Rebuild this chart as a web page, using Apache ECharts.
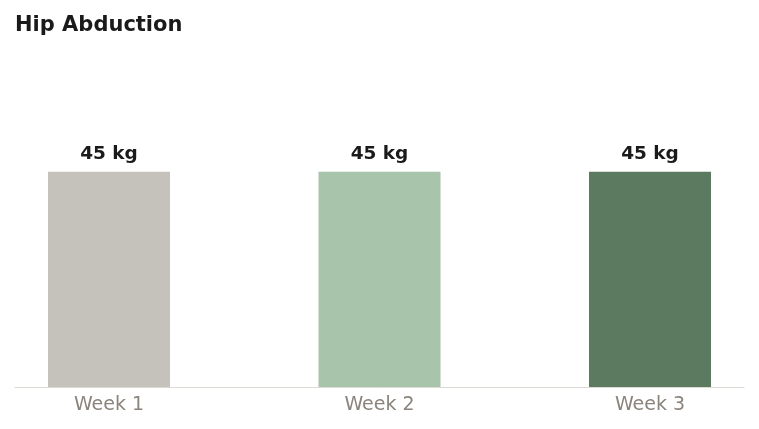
<!DOCTYPE html>
<html>
<head>
<meta charset="utf-8">
<script src="https://cdn.jsdelivr.net/npm/echarts@6/dist/echarts.min.js"></script>
<style>
  html, body { margin: 0; padding: 0; background: #fff; }
  #chart { width: 759px; height: 429px; }
</style>
</head>
<body>
<div id="chart"></div>
<script>
// chart data
var weeks = ["Week 1", "Week 2", "Week 3"];
var weights = [45, 45, 45];
var barColors = ["#c5c1bb", "#a8c4aa", "#5c7a5f"];

var myChart = echarts.init(document.getElementById('chart'));

// x is a value axis so the bars can sit inset from the baseline ends
var points = [];
for (var i = 0; i < weeks.length; i++)
{
    points.push({
        value: [i, weights[i]],
        itemStyle: {color: barColors[i]}
    });
}
var tickPos = [];
for (var i = 0; i < weeks.length; i++)
    tickPos.push(i);

var option = {
    animation: false,
    title: {
        text: 'Hip Abduction',
        left: 15,
        top: 15,
        padding: 0,
        textStyle: {
            fontFamily: 'DejaVu Sans',
            fontSize: 21,
            fontWeight: 'bold',
            color: '#1a1a1a'
        }
    },
    grid: {
        left: 15,
        right: 15,
        top: 100,
        bottom: 42
    },
    xAxis: {
        type: 'value',
        min: -0.3475,
        max: 2.3475,
        splitLine: {show: false},
        axisTick: {show: false},
        axisLine: {show: true, lineStyle: {color: '#dddad6', width: 1}},
        axisLabel: {
            customValues: tickPos,
            formatter: function (v)
            {
                return weeks[Math.round(v)];
            },
            margin: 9,
            fontFamily: 'DejaVu Sans',
            fontSize: 19,
            color: '#8a847c'
        }
    },
    yAxis: {
        type: 'value',
        min: 0,
        max: 60,
        show: false
    },
    series: [
        {
            type: 'bar',
            barWidth: 122,
            data: points,
            label: {
                show: true,
                position: 'top',
                distance: 8,
                formatter: function (p)
                {
                    return p.value[1] + ' kg';
                },
                fontFamily: 'DejaVu Sans',
                fontSize: 18.5,
                fontWeight: 'bold',
                color: '#1a1a1a'
            }
        }
    ]
};
myChart.setOption(option);
</script>
</body>
</html>
